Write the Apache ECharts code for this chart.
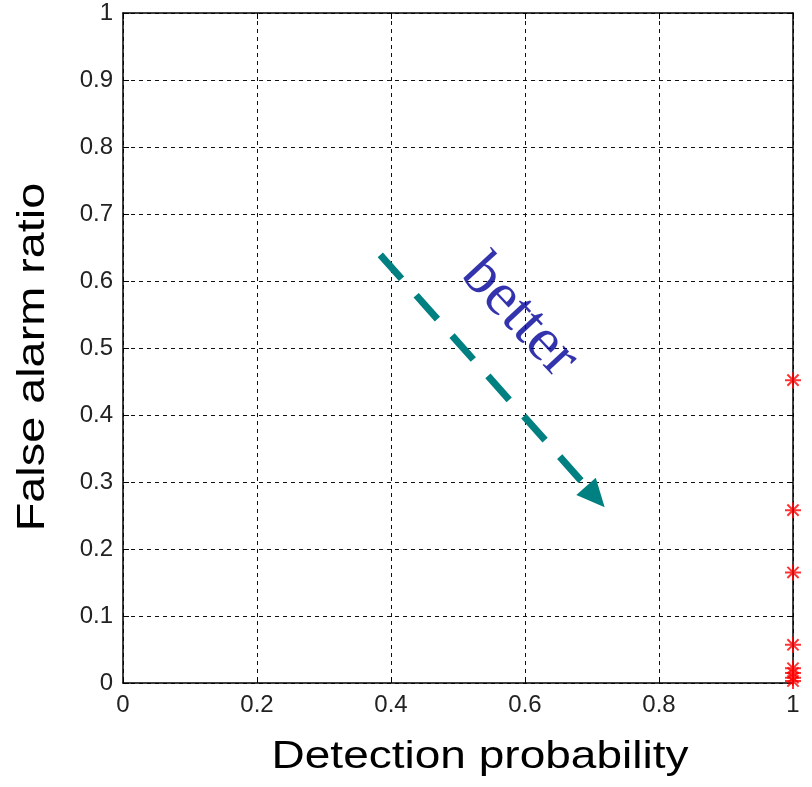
<!DOCTYPE html>
<html>
<head>
<meta charset="utf-8">
<script src="https://cdn.jsdelivr.net/npm/echarts@6/dist/echarts.min.js"></script>
<style>
html,body{margin:0;padding:0;background:#fff;}
#chart{width:812px;height:787px;}
</style>
</head>
<body>
<div id="chart"></div>
<script>
// ---- data ----
var xTicks = [0, 0.2, 0.4, 0.6, 0.8, 1];
var yTicks = [0, 0.1, 0.2, 0.3, 0.4, 0.5, 0.6, 0.7, 0.8, 0.9, 1];
var detectionProb = [1, 1, 1, 1, 1, 1, 1, 1];
var falseAlarm = [0.452, 0.258, 0.165, 0.057, 0.022, 0.015, 0.008, 0.003];
var arrowStart = [0.384, 0.639];
var arrowEnd = [0.705, 0.278];
var betterPos = [0.592, 0.547];
var betterText = 'better';
var xTitle = 'Detection probability';
var yTitle = 'False alarm ratio';

var chart = echarts.init(document.getElementById('chart'), null, {renderer: 'canvas'});
var fmt = function (v) { return String(+(+v).toFixed(1)); };
var labelStyle = {fontFamily: 'Liberation Sans', fontSize: 24, color: '#222'};
var grid = {left: 123, right: 19, top: 13, bottom: 104};

var starPath = 'path://M5,0L5,10M0,5L10,5M1.5,1.5L8.5,8.5M1.5,8.5L8.5,1.5';

var option = {
  animation: false,
  backgroundColor: '#fff',
  grid: grid,
  xAxis: [{
    type: 'value', min: xTicks[0], max: xTicks[xTicks.length - 1], interval: 0.2,
    position: 'bottom',
    axisLine: {show: true, onZero: false, lineStyle: {color: '#000', width: 1.5}},
    axisTick: {show: true, inside: true, length: 6, lineStyle: {color: '#000'}},
    axisLabel: Object.assign({formatter: fmt, margin: 10}, labelStyle),
    splitLine: {show: true, lineStyle: {color: '#111', type: [4, 4], width: 1}}
  }, {
    type: 'value', min: xTicks[0], max: xTicks[xTicks.length - 1], interval: 0.2,
    position: 'top',
    axisLine: {show: true, onZero: false, lineStyle: {color: '#000', width: 1.5}},
    axisTick: {show: true, inside: true, length: 6, lineStyle: {color: '#000'}},
    axisLabel: {show: false},
    splitLine: {show: false}
  }],
  yAxis: [{
    type: 'value', min: yTicks[0], max: yTicks[yTicks.length - 1], interval: 0.1,
    position: 'left',
    axisLine: {show: true, onZero: false, lineStyle: {color: '#000', width: 1.5}},
    axisTick: {show: true, inside: true, length: 6, lineStyle: {color: '#000'}},
    axisLabel: Object.assign({formatter: fmt, margin: 10}, labelStyle),
    splitLine: {show: true, lineStyle: {color: '#111', type: [4, 4], width: 1}}
  }, {
    type: 'value', min: yTicks[0], max: yTicks[yTicks.length - 1], interval: 0.1,
    position: 'right',
    axisLine: {show: true, onZero: false, lineStyle: {color: '#000', width: 1.5}},
    axisTick: {show: true, inside: true, length: 6, lineStyle: {color: '#000'}},
    axisLabel: {show: false},
    splitLine: {show: false}
  }],
  series: [{
    type: 'line',
    data: [],
    markLine: {
      silent: true,
      symbol: ['none', 'triangle'],
      symbolSize: [26, 28],
      label: {show: false},
      lineStyle: {color: '#008080', width: 7, type: [32, 22], cap: 'butt'},
      data: [[{coord: arrowStart}, {coord: arrowEnd}]]
    }
  }, {
    type: 'scatter',
    data: [betterPos],
    symbolSize: 0,
    z: 5,
    itemStyle: {color: '#000099'},
    label: {
      show: true, position: 'inside', rotate: -47,
      formatter: function () { return betterText; },
      fontFamily: 'Liberation Serif', fontSize: 62, color: '#000099',
      textBorderWidth: 0, textBorderColor: 'transparent'
    }
  }, {
    type: 'scatter',
    data: detectionProb.map(function (x, i) { return [x, falseAlarm[i]]; }),
    symbol: starPath,
    symbolSize: 16,
    z: 10,
    itemStyle: {color: 'none', borderColor: '#ff0000', borderWidth: 2}
  }],
  graphic: [{
    type: 'text',
    x: 480, y: 757,
    scaleX: 1.18,
    style: {text: xTitle, fontFamily: 'Liberation Sans', fontSize: 39, fill: '#000', align: 'center', verticalAlign: 'middle'},
    silent: true
  }, {
    type: 'text',
    x: 33, y: 357,
    rotation: Math.PI / 2,
    scaleX: 1.2,
    style: {text: yTitle, fontFamily: 'Liberation Sans', fontSize: 39, fill: '#000', align: 'center', verticalAlign: 'middle'},
    silent: true
  }]
};
chart.setOption(option);
</script>
</body>
</html>
